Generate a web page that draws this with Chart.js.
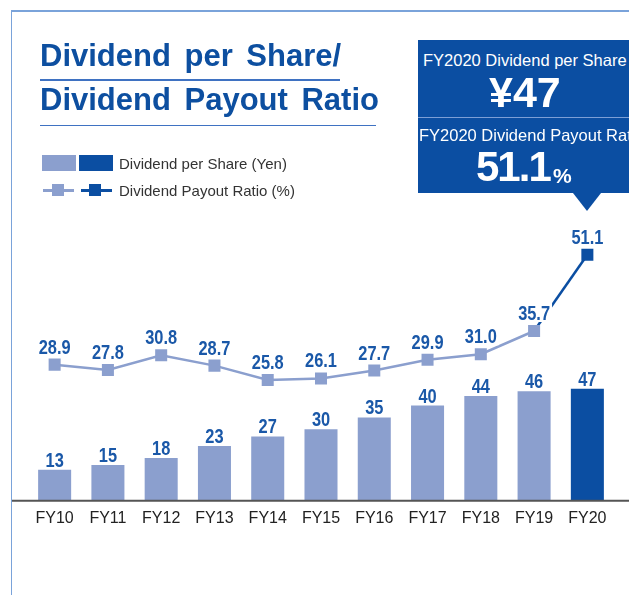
<!DOCTYPE html>
<html>
<head>
<meta charset="utf-8">
<script src="https://cdn.jsdelivr.net/npm/chart.js@4.4.0/dist/chart.umd.min.js"></script>
<style>
  html, body { margin: 0; padding: 0; background: #fff; }
  body { width: 629px; height: 595px; overflow: hidden; position: relative; font-family: 'Liberation Sans', Arial, sans-serif; }
  #wrap { position: absolute; left: 0; top: 0; width: 629px; height: 595px; }
  .abs { position: absolute; white-space: nowrap; }
  .frame-top { left: 11px; top: 10px; width: 618px; height: 1.5px; background: #7aa3da; }
  .frame-left { left: 10.5px; top: 10px; width: 1.5px; height: 585px; background: #7aa3da; }
  .title { left: 40px; font-size: 31px; line-height: 30px; font-weight: bold; color: #0d4fa0; word-spacing: 5px; }
  .uline { height: 1.5px; background: #3f72c2; }
  .leg-text { left: 119px; font-size: 15px; line-height: 15px; color: #333; }
  .sw { height: 16px; top: 155px; }
  .lg-line { height: 2.5px; top: 189px; }
  .lg-sq { width: 12px; height: 12px; top: 184px; }
  #callout { left: 418px; top: 40px; width: 230px; height: 153px; background: #0b4ea2; }
  .co-text { color: #fff; }
  #tri { left: 573px; top: 192.5px; width: 0; height: 0; border-left: 14px solid transparent; border-right: 14px solid transparent; border-top: 18px solid #0b4ea2; }
</style>
</head>
<body>
<div id="wrap"><canvas id="chart"></canvas></div>

<div class="abs frame-top"></div>
<div class="abs frame-left"></div>

<div class="abs title" style="top:40.5px;">Dividend per Share/</div>
<div class="abs uline" style="left:40px; top:79px; width:300px;"></div>
<div class="abs title" style="top:84.5px;">Dividend Payout Ratio</div>
<div class="abs uline" style="left:40px; top:124.5px; width:336px;"></div>

<div class="abs sw" style="left:42px; width:34px; background:#8b9fce;"></div>
<div class="abs sw" style="left:79px; width:34px; background:#0b4ea2;"></div>
<div class="abs leg-text" style="top:155.5px;">Dividend per Share (Yen)</div>
<div class="abs lg-line" style="left:43px; width:31px; background:#8b9fce;"></div>
<div class="abs lg-sq" style="left:51.5px; background:#8b9fce;"></div>
<div class="abs lg-line" style="left:81px; width:31px; background:#0b4ea2;"></div>
<div class="abs lg-sq" style="left:89px; background:#0b4ea2;"></div>
<div class="abs leg-text" style="top:182.5px;">Dividend Payout Ratio (%)</div>

<div class="abs" id="callout"></div>
<div class="abs" style="left:418px; top:117px; width:230px; height:1px; background:#7d9fd6;"></div>
<div class="abs co-text" style="left:423px; top:51.5px; font-size:16.5px; line-height:17px;">FY2020 Dividend per Share</div>
<div class="abs co-text" style="left:489px; top:71px; font-size:43px; line-height:43px; font-weight:bold;">¥47</div>
<div class="abs co-text" style="left:419px; top:126.5px; font-size:16.5px; line-height:17px;">FY2020 Dividend Payout Ratio</div>
<div class="abs co-text" style="left:476px; top:146px; font-size:42px; line-height:42px; font-weight:bold; letter-spacing:-2px;">51.1</div>
<div class="abs co-text" style="left:553px; top:164.5px; font-size:21px; line-height:21px; font-weight:bold;">%</div>
<div class="abs" id="tri"></div>

<script>
const years = ['FY10', 'FY11', 'FY12', 'FY13', 'FY14', 'FY15', 'FY16', 'FY17', 'FY18', 'FY19', 'FY20'];
const dividendPerShare = [13, 15, 18, 23, 27, 30, 35, 40, 44, 46, 47];
const payoutRatio = [28.9, 27.8, 30.8, 28.7, 25.8, 26.1, 27.7, 29.9, 31.0, 35.7, 51.1];
const ratioLabels = ['28.9', '27.8', '30.8', '28.7', '25.8', '26.1', '27.7', '29.9', '31.0', '35.7', '51.1'];

const lightBlue = '#8b9fce';
const darkBlue = '#0b4ea2';
const labelBlue = '#1a58a8';

const colorsFor = arr => arr.map((v, i) => i === arr.length - 1 ? darkBlue : lightBlue);

// condensed-looking label: squeeze the text horizontally
function drawNarrow(ctx, text, x, y) {
  ctx.save();
  ctx.translate(x, y);
  ctx.scale(0.82, 1);
  ctx.fillText(text, 0, 0);
  ctx.restore();
}

// baseline + value labels
const extras = {
  id: 'extras',
  afterDatasetsDraw(chart) {
    const ctx = chart.ctx;
    const y0 = chart.scales.y.getPixelForValue(0);
    ctx.save();
    ctx.strokeStyle = '#555';
    ctx.lineWidth = 2;
    ctx.beginPath();
    ctx.moveTo(11, y0);
    ctx.lineTo(chart.width, y0);
    ctx.stroke();

    ctx.font = "bold 20px 'Liberation Sans', Arial, sans-serif";
    ctx.textAlign = 'center';
    ctx.textBaseline = 'alphabetic';
    chart.getDatasetMeta(0).data.forEach((el, i) => {
      ctx.fillStyle = labelBlue;
      drawNarrow(ctx, String(dividendPerShare[i]), el.x, el.y - 3);
    });
    chart.getDatasetMeta(1).data.forEach((el, i) => {
      const t = ratioLabels[i];
      const w = ctx.measureText(t).width * 0.82;
      ctx.fillStyle = '#fff';
      ctx.fillRect(el.x - w / 2 - 2, el.y - 28, w + 4, 19);
      ctx.fillStyle = labelBlue;
      drawNarrow(ctx, t, el.x, el.y - 11);
    });
    ctx.restore();
  }
};

const chart = new Chart(document.getElementById('chart').getContext('2d'), {
  type: 'bar',
  data: {
    labels: years,
    datasets: [{
      type: 'bar',
      label: 'Dividend per Share (Yen)',
      data: dividendPerShare,
      backgroundColor: colorsFor(dividendPerShare),
      borderWidth: 0,
      barPercentage: 0.62,
      categoryPercentage: 1,
      yAxisID: 'y',
      order: 2
    }, {
      type: 'line',
      label: 'Dividend Payout Ratio (%)',
      data: payoutRatio,
      borderColor: lightBlue,
      borderWidth: 2.5,
      tension: 0,
      pointStyle: 'rect',
      pointRadius: 8.5,
      pointBorderWidth: 0,
      pointBackgroundColor: colorsFor(payoutRatio),
      segment: {
        borderColor: c => c.p1DataIndex === payoutRatio.length - 1 ? darkBlue : lightBlue
      },
      yAxisID: 'y2',
      order: 1
    }]
  },
  options: {
    responsive: true,
    maintainAspectRatio: false,
    animation: false,
    layout: { padding: { left: 28, right: 15, top: 230, bottom: 59 } },
    plugins: { legend: { display: false }, tooltip: { enabled: false } },
    scales: {
      x: {
        grid: { display: false, drawTicks: false },
        border: { display: false },
        ticks: { color: '#222', font: { family: "'Liberation Sans', Arial, sans-serif", size: 16 }, padding: 8 }
      },
      y: { display: false, min: 0, max: 113.7 },
      y2: { display: false, min: 1.37, max: 56.12 }
    }
  },
  plugins: [extras]
});
</script>
</body>
</html>
